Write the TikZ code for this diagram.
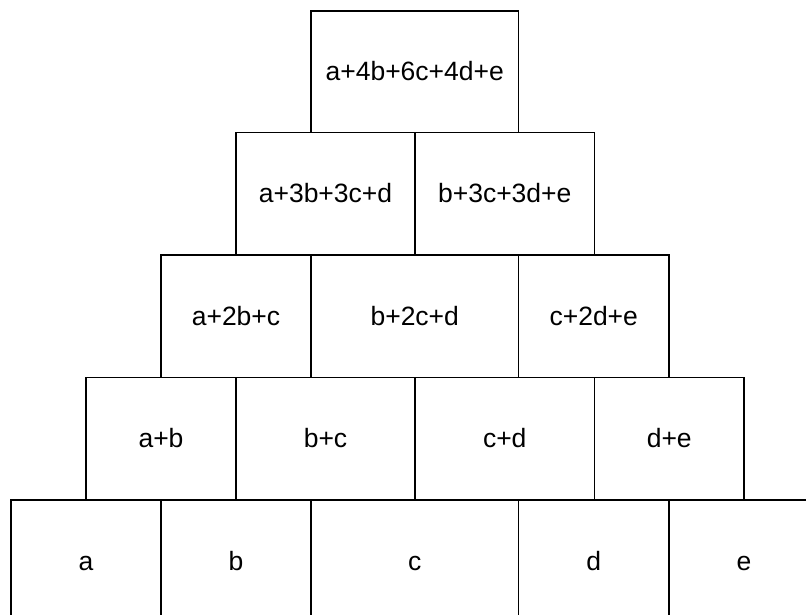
\documentclass[tikz,border=0pt]{standalone}
\usepackage{fontspec}
\setmainfont{Liberation Sans}
\begin{document}
\begin{tikzpicture}[x=1pt,y=-1pt,
  cell/.style={draw, line width=1.9pt, rectangle, inner sep=0pt, outer sep=0pt,
    text height=18pt, text depth=0pt,
    font=\fontsize{26.5}{30}\selectfont}]
\useasboundingbox (0,0) rectangle (806,615);
\clip (0,0) rectangle (806,615);
% row 1
\node[cell, minimum width=207.5pt, minimum height=121.5pt] (r1a) at (414.75,71.75) {a+4b+6c+4d+e};
% row 2
\node[cell, minimum width=179pt, minimum height=122.5pt] (r2a) at (325.5,193.75) {a+3b+3c+d};
\node[cell, minimum width=179.5pt, minimum height=122.5pt] (r2b) at (504.75,193.75) {b+3c+3d+e};
% row 3
\node[cell, minimum width=150pt, minimum height=122.5pt] (r3a) at (236,316.25) {a+2b+c};
\node[cell, minimum width=207.5pt, minimum height=122.5pt] (r3b) at (414.75,316.25) {b+2c+d};
\node[cell, minimum width=150.5pt, minimum height=122.5pt] (r3c) at (593.75,316.25) {c+2d+e};
% row 4
\node[cell, minimum width=150pt, minimum height=122.5pt] (r4a) at (161,438.75) {a+b};
\node[cell, minimum width=179pt, minimum height=122.5pt] (r4b) at (325.5,438.75) {b+c};
\node[cell, minimum width=179.5pt, minimum height=122.5pt] (r4c) at (504.75,438.75) {c+d};
\node[cell, minimum width=149.5pt, minimum height=122.5pt] (r4d) at (669.25,438.75) {d+e};
% row 5
\node[cell, minimum width=150pt, minimum height=122pt] (r5a) at (86,561) {a};
\node[cell, minimum width=150pt, minimum height=122pt] (r5b) at (236,561) {b};
\node[cell, minimum width=207.5pt, minimum height=122pt] (r5c) at (414.75,561) {c};
\node[cell, minimum width=150.5pt, minimum height=122pt] (r5d) at (593.75,561) {d};
\node[cell, minimum width=150pt, minimum height=122pt] (r5e) at (744,561) {e};
\end{tikzpicture}
\end{document}
